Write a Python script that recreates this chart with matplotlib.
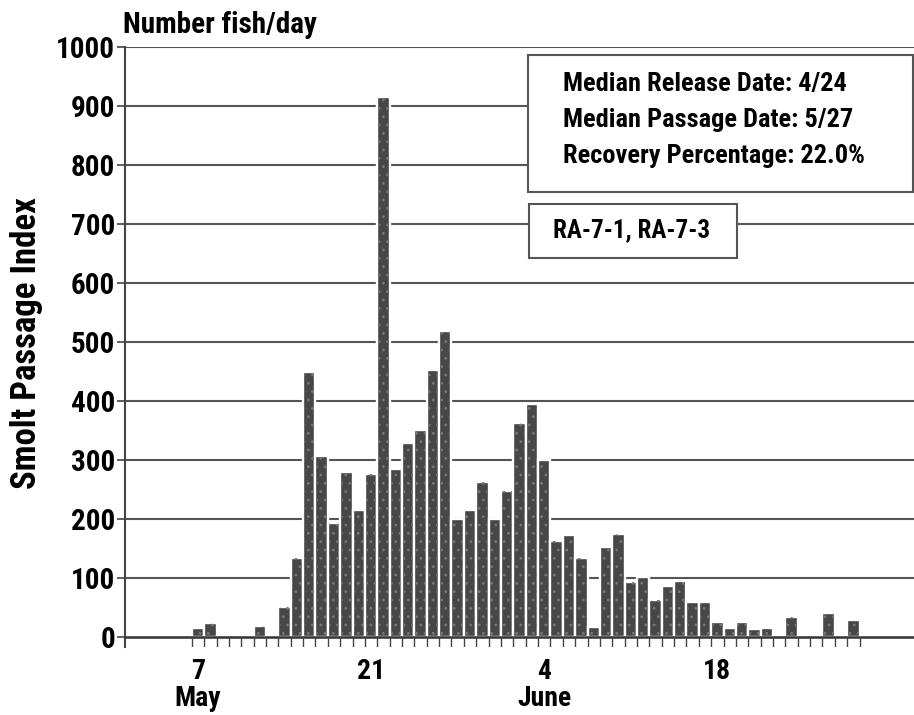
import matplotlib
matplotlib.use("Agg")
import matplotlib.pyplot as plt
from matplotlib import font_manager as fm
from matplotlib.patches import Rectangle
import numpy as np

# day number counted from 1 May (June 1 = 32)
days = [7, 8, 12, 14, 15, 16, 17, 18, 19, 20, 21, 22, 23, 24, 25, 26, 27,
        28, 29, 30, 31, 32, 33, 34, 35, 36, 37, 38, 39, 40, 41, 42, 43, 44,
        45, 46, 47, 48, 49, 50, 51, 52, 53, 55, 58, 60]
fish = [15, 24, 18, 50, 134, 449, 307, 193, 280, 215, 276, 915, 284, 328, 350, 452, 519,
        200, 216, 263, 200, 248, 363, 395, 300, 163, 172, 134, 17, 153, 174, 94, 101, 63,
        86, 95, 59, 60, 25, 15, 25, 14, 15, 34, 41, 29]

tick_days = [7, 21, 35, 49]
tick_labels = ["7\nMay", "21", "4\nJune", "18"]
y_ticks = list(range(0, 1001, 100))

box_lines = ["Median Release Date: 4/24",
             "Median Passage Date: 5/27",
             "Recovery Percentage: 22.0%"]
site_label = "RA-7-1, RA-7-3"


def installed(name):
    try:
        fm.findfont(fm.FontProperties(family=name), fallback_to_default=False)
        return True
    except ValueError:
        return False


# condensed bold face like the original; pick what is there
fam = None
for name in ["Liberation Sans Narrow", "DejaVu Sans Condensed", "Roboto Condensed"]:
    if installed(name):
        fam = name
        break
if fam is None:
    fam = "Liberation Sans"
    k = 0.86   # wider face, shrink a bit
else:
    k = 1.0
plt.rcParams["font.family"] = [fam, "DejaVu Sans"]
plt.rcParams["font.weight"] = "bold"
plt.rcParams["hatch.linewidth"] = 0.8

W, H = 914, 715
fig = plt.figure(figsize=(W / 100, H / 100), dpi=100)
ax = fig.add_axes([125 / W, 1 - 647 / H, 1 - 125 / W, (647 - 47) / H])

ax.set_xlim(1.1, 64.9)
ax.set_ylim(-17, 1000)

# grid lines
for v in y_ticks[1:]:
    ax.axhline(v, color="#555555", lw=1.5, zorder=1)
ax.axhline(0, color="#333333", lw=1.8, zorder=3)

# bars: dark fill, white outline (hides grid between bars), speckled texture
ax.bar(days, fish, width=1.0, color="#474747", edgecolor="white", lw=1.7, zorder=2)
ax.bar(days, fish, width=0.75, color="none", edgecolor="#767676", lw=0,
       hatch="..", zorder=2.5)

# daily ticks below the baseline
ax.vlines(np.arange(6.5, 61, 1.0), -17, 0, color="#444444", lw=1.0, zorder=3)

for s in ["top", "right", "bottom"]:
    ax.spines[s].set_visible(False)
ax.spines["left"].set_color("#444444")
ax.spines["left"].set_linewidth(1.5)

ax.set_yticks(y_ticks)
ax.set_yticklabels([str(v) for v in y_ticks], fontsize=21 * k, fontweight="bold")
ax.tick_params(axis="y", length=6, width=1.2, color="#444444", pad=1)
ax.set_xticks(tick_days)
ax.set_xticklabels(tick_labels, fontsize=20 * k, fontweight="bold", linespacing=1.0)
ax.tick_params(axis="x", length=0, pad=8)

fig.text(123 / W, 1 - 25 / H, "Number fish/day", fontsize=21 * k, fontweight="bold",
         va="center", ha="left")
fig.text(27 / W, 1 - 343 / H, "Smolt Passage Index", fontsize=25 * k, fontweight="bold",
         rotation=90, va="center", ha="center")

# info boxes
fig.patches.append(Rectangle((528 / W, 1 - 192 / H), (913 - 528) / W, (192 - 55) / H,
                             transform=fig.transFigure, facecolor="white",
                             edgecolor="#555555", lw=1.5, zorder=5))
fig.patches.append(Rectangle((529 / W, 1 - 258 / H), (737 - 529) / W, (258 - 204) / H,
                             transform=fig.transFigure, facecolor="white",
                             edgecolor="#555555", lw=1.5, zorder=5))
for i, line in enumerate(box_lines):
    fig.text(563 / W, 1 - (84 + i * 36) / H, line, fontsize=19 * k, fontweight="bold",
             va="center", ha="left", zorder=6)
fig.text(553 / W, 1 - 230 / H, site_label, fontsize=18 * k, fontweight="bold",
         va="center", ha="left", zorder=6)

fig.savefig("out.png", dpi=100)
